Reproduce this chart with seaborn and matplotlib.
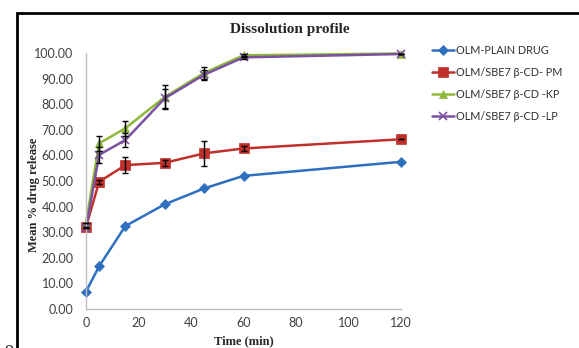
import matplotlib
matplotlib.use("Agg")
import matplotlib.pyplot as plt
import matplotlib.patches as mpatches
import seaborn as sns
import pandas as pd

time_min = [0, 5, 15, 30, 45, 60, 120]
plain_drug = [6.8, 16.7, 32.4, 40.9, 47.1, 52.0, 57.5]
pm = [32.1, 49.7, 56.2, 57.1, 60.8, 62.7, 66.3]
kp = [33.5, 64.7, 70.6, 82.8, 92.2, 99.1, 99.8]
lp = [31.5, 60.2, 66.0, 82.3, 91.5, 98.3, 99.6]
pm_err = [0.0, 0.8, 3.2, 1.2, 5.0, 0.8, 0.0]
kp_err = [0.0, 2.8, 3.0, 4.6, 2.4, 0.5, 0.0]
lp_err = [0.0, 3.2, 2.6, 3.6, 2.0, 0.5, 0.0]
series_names = ["OLM-PLAIN DRUG", "OLM/SBE7 β-CD- PM", "OLM/SBE7 β-CD -KP", "OLM/SBE7 β-CD -LP"]
y_ticks = [0, 10, 20, 30, 40, 50, 60, 70, 80, 90, 100]
x_ticks = [0, 20, 40, 60, 80, 100, 120]

sns.set_theme(style="white")
plt.rcParams['font.family'] = ['Lato', 'DejaVu Sans']

fig = plt.figure(figsize=(5.79, 3.48), dpi=100)
ax = fig.add_axes([86/579, 1-309/348, (401-86)/579, (309-53)/348])

colors = ["#2E6FC0", "#C0302B", "#8DB83A", "#7B51A0"]
markers = ["D", "s", "^", "x"]
msizes = [5, 7, 6, 6]
values = [plain_drug, pm, kp, lp]
errs = [None, pm_err, kp_err, lp_err]

for name, vals, col, mk, ms, er in zip(series_names, values, colors, markers, msizes, errs):
    df = pd.DataFrame({"t": time_min, "v": vals})
    sns.lineplot(data=df, x="t", y="v", ax=ax, color=col, marker=mk, markersize=ms,
                 linewidth=1.8, label=name, clip_on=False,
                 markeredgecolor=col, markeredgewidth=1.2 if mk == "x" else 0.5)
    if er is not None:
        ax.errorbar(time_min, vals, yerr=er, fmt="none", ecolor="black",
                    elinewidth=1, capsize=2.5, capthick=1, clip_on=False, zorder=5)

ax.set_xlim(0, 120)
ax.set_ylim(0, 100)
ax.set_xticks(x_ticks)
ax.set_yticks(y_ticks)
ax.set_yticklabels([f"{v:.2f}" for v in y_ticks])
ax.tick_params(axis="y", labelsize=9, colors="#404040", length=0, pad=9)
ax.tick_params(axis="x", labelsize=9, colors="#404040", length=0, pad=6)
for s in ["top", "right"]:
    ax.spines[s].set_visible(False)
for s in ["left", "bottom"]:
    ax.spines[s].set_color("#BFBFBF")
    ax.spines[s].set_linewidth(1)

ax.set_xlabel("Time (min)", fontfamily="Liberation Serif", fontweight="bold", fontsize=9, labelpad=4)
ax.set_ylabel("Mean % drug release", fontfamily="Liberation Serif", fontweight="bold", fontsize=9)
ax.yaxis.set_label_coords((34-86)/315, (309-195)/256)
ax.yaxis.label.set_va("center")
fig.text(290/579, 1-29/348, "Dissolution profile", ha="center", va="center",
         fontfamily="Liberation Serif", fontweight="bold", fontsize=11)

leg = ax.legend(loc="upper left", bbox_to_anchor=(432/579, 1-45/348), bbox_transform=fig.transFigure,
                frameon=False, fontsize=7.8, handlelength=2.0, handletextpad=0.2, labelspacing=1.0,
                borderaxespad=0, borderpad=0)
for t in leg.get_texts():
    t.set_color("#303030")

border = mpatches.Rectangle((17/579, -0.05), 1.1, 1-13/348+0.05, transform=fig.transFigure,
                            fill=False, edgecolor="black", linewidth=2, clip_on=False)
fig.patches.append(border)
fig.text(9/579, 1-341/348, "o", fontfamily="Liberation Serif", fontsize=13, ha="center", va="top")

fig.savefig("out.png", dpi=100)
